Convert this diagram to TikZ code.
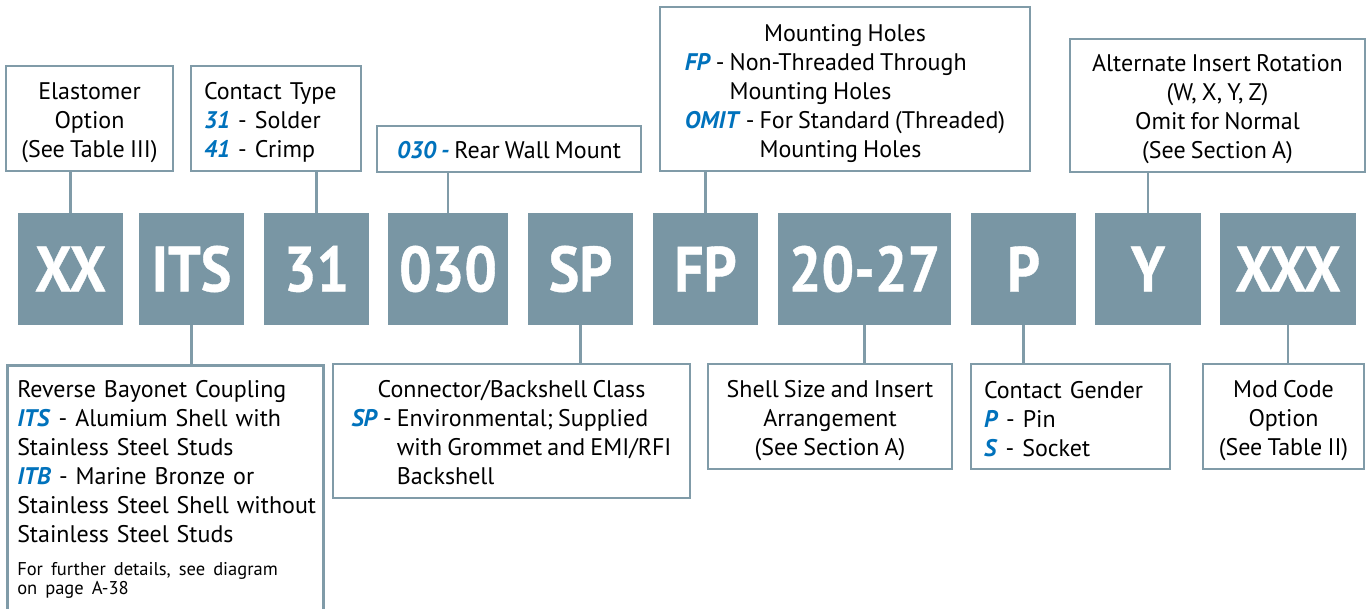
\documentclass[tikz,border=0pt]{standalone}
\usepackage{fontspec}
\setmainfont[WordSpace=0.8]{PT Sans}
\newfontfamily\boxfont[FakeStretch=0.9,FakeBold=0.6]{PT Sans}
\definecolor{slate}{RGB}{121,150,164}
\definecolor{lineslate}{RGB}{128,155,168}
\definecolor{cblue}{RGB}{0,114,188}
\newcommand\blu[1]{\textcolor{cblue}{\textbf{\textit{#1}}}}
\newcommand\fl[1]{\rule{0pt}{#1pt}}
\begin{document}
\begin{tikzpicture}[x=1pt,y=-1pt,
  gbox/.style={fill=slate, text=white, inner sep=0pt, minimum height=112,
    font=\boxfont\bfseries\fontsize{64}{64}\selectfont},
  cbox/.style={draw=lineslate, line width=2.5pt, fill=white, inner sep=0pt,
    font=\fontsize{24}{29}\selectfont},
  conn/.style={draw=lineslate, line width=2.5pt}]
\useasboundingbox (0,0) rectangle (1367,608);
\fill[white] (0,0) rectangle (1367,608);

% grey code boxes (y 213..325)
\node[gbox, minimum width=105] (xx)  at (70.5,269)   {XX};
\node[gbox, minimum width=105] (its) at (191.5,269)  {ITS};
\node[gbox, minimum width=105] (c31) at (316.5,269)  {31};
\node[gbox, minimum width=120] (c030) at (448,269)   {030};
\node[gbox, minimum width=105] (sp)  at (580.5,269)  {SP};
\node[gbox, minimum width=105] (fp)  at (705.5,269)  {FP};
\node[gbox, minimum width=173] (sz)  at (864.5,269)  {20-27};
\node[gbox, minimum width=105] (pp)  at (1023.5,269) {P};
\node[gbox, minimum width=106] (yy)  at (1148,269)   {Y};
\node[gbox, minimum width=136] (xxx) at (1288,269)   {XXX};

% top callouts
\node[cbox, minimum width=167, minimum height=105, align=center] (elast) at (89.5,118.5)
  {\fl{25.5}Elastomer\\Option\\(See Table III)};
\node[cbox, minimum width=170, minimum height=105, text width=144, inner xsep=13pt, align=left] (ctype) at (276,118.5)
  {\fl{25.5}Contact Type\\\blu{31} - Solder\\\blu{41} - Crimp};
\node[cbox, minimum width=264, minimum height=46] (rwm) at (509,149)
  {\fl{19}\blu{030 -} Rear Wall Mount};
\node[cbox, minimum width=370, minimum height=164] (mh) at (845,89)
  {\begin{tabular}{@{}l@{}}\multicolumn{1}{@{}c@{}}{\fl{29}Mounting Holes}\\
   \blu{FP} - Non-Threaded Through\\
   \phantom{\blu{FP} - }Mounting Holes\\
   \blu{OMIT} - For Standard (Threaded)\\
   \phantom{\blu{OMIT} - }Mounting Holes\end{tabular}};
\node[cbox, minimum width=295, minimum height=133, align=center] (alt) at (1217.5,105.5)
  {\fl{23.5}Alternate Insert Rotation\\(W, X, Y, Z)\\Omit for Normal\\(See Section A)};

% bottom callouts
\node[cbox, anchor=north west, minimum width=315, text width=296, inner xsep=10pt, inner ysep=15.5pt] (rev) at (6,364)
  {\hyphenpenalty=10000 \hbadness=10000 \hfuzz=20pt Reverse Bayonet Coupling\\
   \blu{ITS} - Alumium Shell with\\
   Stainless Steel Studs\\
   \blu{ITB} - Marine Bronze or\\
   \mbox{Stainless Steel Shell without}\\
   Stainless Steel Studs\par\vspace{13pt}%
   {\fontsize{18.5}{19.5}\selectfont For further details, see diagram\\ on page A-38\par}\vspace{8pt}};
\node[cbox, minimum width=357, minimum height=134] (cls) at (511.5,431)
  {\begin{tabular}{@{}l@{}}\multicolumn{1}{@{}c@{}}{\fl{28.5}Connector/Backshell Class}\\
   \blu{SP} - Environmental; Supplied\\
   \phantom{\blu{SP} - }with Grommet and EMI/RFI\\
   \phantom{\blu{SP} - }Backshell\end{tabular}};
\node[cbox, minimum width=244, minimum height=105, align=center] (shell) at (830,416.5)
  {\fl{25.5}Shell Size and Insert\\Arrangement\\(See Section A)};
\node[cbox, minimum width=199, minimum height=105, text width=173, inner xsep=13pt, align=left] (gender) at (1070.5,416.5)
  {\fl{22}Contact Gender\\\blu{P} - Pin\\\blu{S} - Socket};
\node[cbox, minimum width=161, minimum height=105, align=center] (mod) at (1283.5,416.5)
  {\fl{25.5}Mod Code\\Option\\(See Table II)};

% connectors
\draw[conn] (xx.north)   -- (xx.north |- elast.south);
\draw[conn] (c31.north)  -- (c31.north |- ctype.south);
\draw[conn] (c030.north) -- (c030.north |- rwm.south);
\draw[conn] (fp.north)   -- (fp.north |- mh.south);
\draw[conn] (yy.north)   -- (yy.north |- alt.south);
\draw[conn] (its.south)  -- (its.south |- rev.north);
\draw[conn] (sp.south)   -- (sp.south |- cls.north);
\draw[conn] (sz.south)   -- (sz.south |- shell.north);
\draw[conn] (pp.south)   -- (pp.south |- gender.north);
\draw[conn] (xxx.south)  -- (xxx.south |- mod.north);
\end{tikzpicture}
\end{document}
